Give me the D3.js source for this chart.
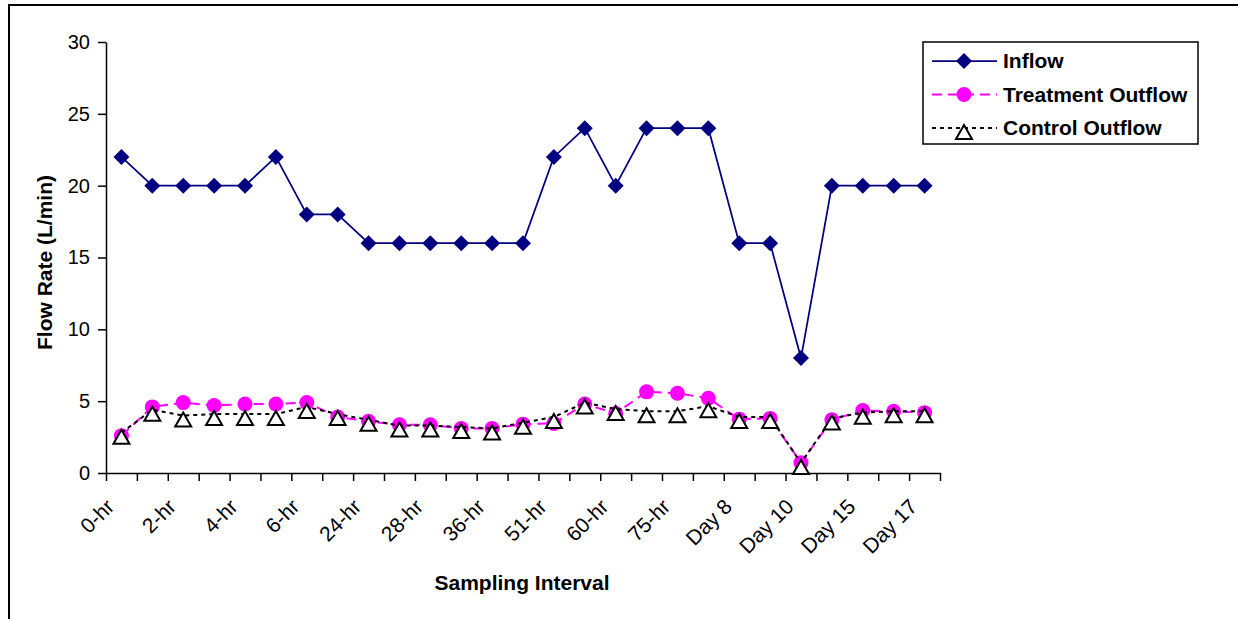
<!DOCTYPE html>
<html>
<head>
<meta charset="utf-8">
<script src="https://cdn.jsdelivr.net/npm/d3@7"></script>
<style>
  body { margin: 0; background: #fff; }
  svg { display: block; font-family: "Liberation Sans", Arial, sans-serif; }
  .axis path, .axis line { stroke: #000; stroke-width: 1.5; }
  .axis text { font-size: 20px; fill: #000; }
</style>
</head>
<body>
<svg id="chart"></svg>
<script>
// Flow rates (L/min) for each sampling interval
const tickLabels = ['0-hr', '2-hr', '4-hr', '6-hr', '24-hr', '28-hr', '36-hr',
                    '51-hr', '60-hr', '75-hr', 'Day 8', 'Day 10', 'Day 15', 'Day 17'];
const inflow = [22, 20, 20, 20, 20, 22, 18, 18, 16, 16, 16, 16, 16, 16,
                22, 24, 20, 24, 24, 24, 16, 16, 8, 20, 20, 20, 20];
const treatmentOutflow = [2.6, 4.6, 4.9, 4.7, 4.8, 4.8, 4.9, 3.9, 3.6, 3.35, 3.35, 3.1, 3.1, 3.4,
                          3.45, 4.8, 4.15, 5.65, 5.55, 5.2, 3.75, 3.8, 0.72, 3.7, 4.35, 4.3, 4.2];
const controlOutflow = [2.8, 4.4, 4.0, 4.1, 4.1, 4.1, 4.6, 4.1, 3.7, 3.3, 3.3, 3.2, 3.1, 3.5,
                        3.9, 4.9, 4.45, 4.3, 4.3, 4.65, 3.9, 3.9, 0.7, 3.8, 4.2, 4.3, 4.3];
const yTicks = [0, 5, 10, 15, 20, 25, 30];

const W = 1238, H = 619;
const plot = { left: 106, right: 940, top: 42, bottom: 473 };

const svg = d3.select('#chart').attr('width', W).attr('height', H);

// Outer chart frame (only top and left edges fall inside the picture)
svg.append('rect')
    .attr('x', 9).attr('y', 5)
    .attr('width', W + 20).attr('height', H + 20)
    .attr('fill', 'none').attr('stroke', '#000').attr('stroke-width', 2);

const n = inflow.length;
const x = d3.scaleBand().domain(d3.range(n)).range([plot.left, plot.right]);
const xEdge = d3.scaleLinear().domain([0, n]).range([plot.left, plot.right]);
const y = d3.scaleLinear().domain([0, 30]).range([plot.bottom, plot.top]);
const cx = i => x(i) + x.bandwidth() / 2;

// Y axis
svg.append('g')
    .attr('class', 'axis')
    .attr('transform', `translate(${plot.left},0)`)
    .call(d3.axisLeft(y).tickValues(yTicks).tickSize(8).tickSizeOuter(0).tickPadding(8));

// X axis: tick marks on category edges
svg.append('g')
    .attr('class', 'axis')
    .attr('transform', `translate(0,${plot.bottom})`)
    .call(d3.axisBottom(xEdge).ticks(n).tickFormat('').tickSize(8).tickSizeOuter(0));

// X labels, every second category
svg.append('g')
    .selectAll('text')
    .data(tickLabels)
    .join('text')
    .attr('transform', (d, i) => `translate(${cx(i * 2) - 6},${plot.bottom + 35}) rotate(-45)`)
    .attr('text-anchor', 'end')
    .attr('font-size', 21)
    .text(d => d);

// Axis titles
svg.append('text')
    .attr('transform', `translate(52,${(plot.top + plot.bottom) / 2 + 5}) rotate(-90)`)
    .attr('text-anchor', 'middle')
    .attr('font-size', 21).attr('font-weight', 'bold')
    .text('Flow Rate (L/min)');

svg.append('text')
    .attr('x', 522).attr('y', 590)
    .attr('text-anchor', 'middle')
    .attr('font-size', 21).attr('font-weight', 'bold')
    .text('Sampling Interval');

// Markers
const diamond = 'M0,-8L8,0L0,8L-8,0Z';
const triangle = 'M0,-3L8,11L-8,11Z';

const series = [
    { name: 'Inflow', values: inflow, color: '#000080', dash: null, width: 1.75, marker: 'diamond' },
    { name: 'Treatment Outflow', values: treatmentOutflow, color: '#FF00FF', dash: '10,6', width: 2, marker: 'circle' },
    { name: 'Control Outflow', values: controlOutflow, color: '#000', dash: '4,4', width: 2, marker: 'triangle' }
];

function drawMarker(sel, s) {
    if (s.marker === 'circle') {
        sel.append('circle').attr('r', 7.5).attr('fill', s.color);
    } else if (s.marker === 'diamond') {
        sel.append('path').attr('d', diamond).attr('fill', s.color);
    } else {
        sel.append('path').attr('d', triangle)
            .attr('fill', '#fff').attr('stroke', '#000').attr('stroke-width', 2);
    }
}

const line = d3.line().x((d, i) => cx(i)).y(d => y(d));

series.forEach(s => {
    const g = svg.append('g');
    g.append('path')
        .datum(s.values)
        .attr('d', line)
        .attr('fill', 'none')
        .attr('stroke', s.color)
        .attr('stroke-width', s.width)
        .attr('stroke-dasharray', s.dash);
    g.selectAll('g.pt')
        .data(s.values)
        .join('g')
        .attr('class', 'pt')
        .attr('transform', (d, i) => `translate(${cx(i)},${y(d)})`)
        .each(function () { drawMarker(d3.select(this), s); });
});

// Legend
const legend = svg.append('g');
legend.append('rect')
    .attr('x', 923).attr('y', 42).attr('width', 275).attr('height', 102)
    .attr('fill', '#fff').attr('stroke', '#000').attr('stroke-width', 1.5);

series.forEach((s, i) => {
    const ly = 61 + i * 33.5;
    const row = legend.append('g');
    row.append('line')
        .attr('x1', 932).attr('x2', 997).attr('y1', ly).attr('y2', ly)
        .attr('stroke', s.color).attr('stroke-width', s.width)
        .attr('stroke-dasharray', s.dash);
    const m = row.append('g').attr('transform', `translate(964,${ly})`);
    drawMarker(m, s);
    row.append('text')
        .attr('x', 1003).attr('y', ly).attr('dy', '0.35em')
        .attr('font-size', 21).attr('font-weight', 'bold')
        .text(s.name);
});
</script>
</body>
</html>
